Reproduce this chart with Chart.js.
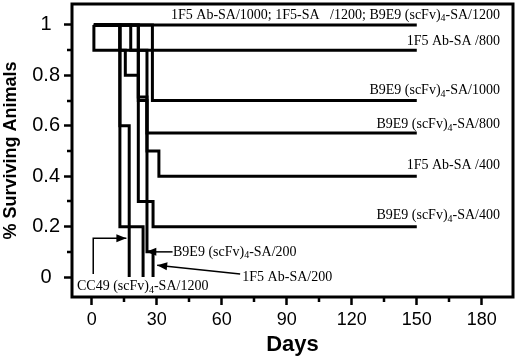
<!DOCTYPE html>
<html>
<head>
<meta charset="utf-8">
<script src="https://cdn.jsdelivr.net/npm/chart.js@4"></script>
<style>
  html, body { margin: 0; padding: 0; background: #fff; }
</style>
</head>
<body>
<canvas id="survChart" width="520" height="358"></canvas>
<script>
// Kaplan-Meier style curves: day of each event and fraction surviving after it
const topDays = [1, 150];             // 1F5 Ab-SA/1000; 1F5-SA/1200; B9E9 (scFv)4-SA/1200
const topSurv = [1, 1];
const ab800Days = [1, 1, 150];        // 1F5 Ab-SA/800
const ab800Surv = [1, 0.9, 0.9];
const b1000Days = [1, 28, 150];       // B9E9 (scFv)4-SA/1000
const b1000Surv = [1, 0.7, 0.7];
const b800Days = [1, 21.5, 25.5, 150];    // B9E9 (scFv)4-SA/800
const b800Surv = [1, 0.714, 0.571, 0.571];
const ab400Days = [1, 13, 15.5, 21.5, 25.5, 31, 150];   // 1F5 Ab-SA/400
const ab400Surv = [1, 0.9, 0.8, 0.7, 0.5, 0.4, 0.4];
const b400Days = [1, 18, 25.5, 28.3, 150];   // B9E9 (scFv)4-SA/400
const b400Surv = [1, 0.9, 0.3, 0.2, 0.2];
const ab200Days = [1, 21.5, 25.5, 28.3];      // 1F5 Ab-SA/200
const ab200Surv = [1, 0.3, 0.1, 0];
const b200Days = [1, 13, 23.7];       // B9E9 (scFv)4-SA/200
const b200Surv = [1, 0.2, 0];
const ccDays = [1, 13, 17.3];         // CC49 (scFv)4-SA/1200
const ccSurv = [1, 0.6, 0];

const xTicks = [0, 30, 60, 90, 120, 150, 180];
const xMinorTicks = [15, 45, 75, 105, 135, 165];
const yTicks = [0, 0.2, 0.4, 0.6, 0.8, 1];
const yMinorTicks = [0.1, 0.3, 0.5, 0.7, 0.9];

const allCurves = [
  [topDays, topSurv], [ab800Days, ab800Surv], [b1000Days, b1000Surv],
  [b800Days, b800Surv], [ab400Days, ab400Surv], [b400Days, b400Surv],
  [ab200Days, ab200Surv], [b200Days, b200Surv], [ccDays, ccSurv]
];

// text labels: "{4}" marks the subscript
const curveLabels = [
  { text: "1F5 Ab-SA/1000; 1F5-SA   /1200; B9E9 (scFv){4}-SA/1200", x: 188.4, y: 1.04, align: "right" },
  { text: "1F5 Ab-SA /800", x: 188.4, y: 0.935, align: "right" },
  { text: "B9E9 (scFv){4}-SA/1000", x: 188.4, y: 0.742, align: "right" },
  { text: "B9E9 (scFv){4}-SA/800", x: 188.4, y: 0.605, align: "right" },
  { text: "1F5 Ab-SA /400", x: 188.4, y: 0.444, align: "right" },
  { text: "B9E9 (scFv){4}-SA/400", x: 188.4, y: 0.246, align: "right" },
  { text: "B9E9 (scFv){4}-SA/200", x: 37.5, y: 0.1, align: "left" },
  { text: "1F5 Ab-SA/200", x: 69.5, y: 0.0, align: "left" },
  { text: "CC49 (scFv){4}-SA/1200", x: -6.8, y: -0.036, align: "left" }
];

const arrows = [
  [[0.7, 0.012], [0.7, 0.154], [16.0, 0.154]],
  [[37.3, 0.1], [25.2, 0.1]],
  [[68.5, 0.012], [30.2, 0.047]]
];

function drawLabel(ctx, item, xs, ys) {
  const parts = item.text.split("{4}");
  const big = "14px 'Liberation Serif'";
  const small = "10px 'Liberation Serif'";
  let total = 0;
  parts.forEach((p, i) => {
    ctx.font = big;
    total += ctx.measureText(p).width;
    if (i < parts.length - 1) {
      ctx.font = small;
      total += ctx.measureText("4").width;
    }
  });
  let px = xs.getPixelForValue(item.x);
  const py = ys.getPixelForValue(item.y);
  if (item.align === "right") px -= total;
  ctx.textAlign = "left";
  ctx.textBaseline = "middle";
  parts.forEach((p, i) => {
    ctx.font = big;
    ctx.fillText(p, px, py);
    px += ctx.measureText(p).width;
    if (i < parts.length - 1) {
      ctx.font = small;
      ctx.fillText("4", px, py + 4);
      px += ctx.measureText("4").width;
    }
  });
}

const decorPlugin = {
  id: "decor",
  afterDraw(chart) {
    const ctx = chart.ctx;
    const xs = chart.scales.x;
    const ys = chart.scales.y;
    const area = chart.chartArea;
    ctx.save();
    ctx.strokeStyle = "#000";
    ctx.fillStyle = "#000";

    // minor ticks
    ctx.lineWidth = 2.5;
    ctx.beginPath();
    xMinorTicks.forEach((v) => {
      const px = Math.round(xs.getPixelForValue(v));
      ctx.moveTo(px, area.bottom);
      ctx.lineTo(px, area.bottom + 5);
    });
    yMinorTicks.forEach((v) => {
      const py = Math.round(ys.getPixelForValue(v));
      ctx.moveTo(area.left, py);
      ctx.lineTo(area.left - 5, py);
    });
    ctx.stroke();

    // frame
    ctx.lineWidth = 3;
    ctx.strokeRect(area.left, area.top, area.right - area.left, area.bottom - area.top);

    // labels
    curveLabels.forEach((item) => drawLabel(ctx, item, xs, ys));

    // arrows
    ctx.lineWidth = 1.5;
    arrows.forEach((pts) => {
      const p = pts.map(([a, b]) => [xs.getPixelForValue(a), ys.getPixelForValue(b)]);
      ctx.beginPath();
      ctx.moveTo(p[0][0], p[0][1]);
      for (let i = 1; i < p.length; i++) ctx.lineTo(p[i][0], p[i][1]);
      ctx.stroke();
      const [x1, y1] = p[p.length - 2];
      const [x2, y2] = p[p.length - 1];
      const ang = Math.atan2(y2 - y1, x2 - x1);
      const len = 10, half = 4;
      ctx.beginPath();
      ctx.moveTo(x2, y2);
      ctx.lineTo(x2 - len * Math.cos(ang) + half * Math.sin(ang), y2 - len * Math.sin(ang) - half * Math.cos(ang));
      ctx.lineTo(x2 - len * Math.cos(ang) - half * Math.sin(ang), y2 - len * Math.sin(ang) + half * Math.cos(ang));
      ctx.closePath();
      ctx.fill();
    });
    ctx.restore();
  }
};

const ctx = document.getElementById("survChart").getContext("2d");

new Chart(ctx, {
  type: "line",
  data: {
    datasets: allCurves.map(([days, surv]) => ({
      data: days.map((d, i) => ({ x: d, y: surv[i] })),
      stepped: true,
      borderColor: "#000",
      borderWidth: 3,
      pointRadius: 0,
      fill: false,
    })),
  },
  options: {
    responsive: false,
    animation: false,
    layout: { padding: { top: 4, right: 7, left: 0, bottom: 0 } },
    plugins: { legend: { display: false }, tooltip: { enabled: false } },
    scales: {
      x: {
        type: "linear",
        min: -9.1,
        max: 194.4,
        afterBuildTicks: (s) => { s.ticks = xTicks.map((v) => ({ value: v })); },
        afterFit: (s) => { s.height = 61; },
        border: { display: false },
        grid: { drawOnChartArea: false, tickLength: 8, tickWidth: 2.5, color: "#000" },
        ticks: {
          color: "#000",
          padding: 4,
          maxRotation: 0,
          font: { family: "'Liberation Sans'", size: 18 },
        },
        title: {
          display: true,
          text: "Days",
          color: "#000",
          padding: 0,
          font: { family: "'Liberation Sans'", size: 22, weight: "bold" },
        },
      },
      y: {
        type: "linear",
        min: -0.079,
        max: 1.083,
        afterBuildTicks: (s) => { s.ticks = yTicks.map((v) => ({ value: v })); },
        afterFit: (s) => { s.width = 72; s.paddingTop = 0; s.paddingBottom = 0; },
        border: { display: false },
        grid: { drawOnChartArea: false, tickLength: 8, tickWidth: 2.5, color: "#000" },
        ticks: {
          color: "#000",
          padding: 4,
          crossAlign: "center",
          font: { family: "'Liberation Sans'", size: 20 },
          callback: (v) => String(Math.round(v * 10) / 10),
        },
        title: {
          display: true,
          text: "% Surviving Animals",
          color: "#000",
          padding: 0,
          font: { family: "'Liberation Sans'", size: 18, weight: "bold" },
        },
      },
    },
  },
  plugins: [decorPlugin],
});
</script>
</body>
</html>
